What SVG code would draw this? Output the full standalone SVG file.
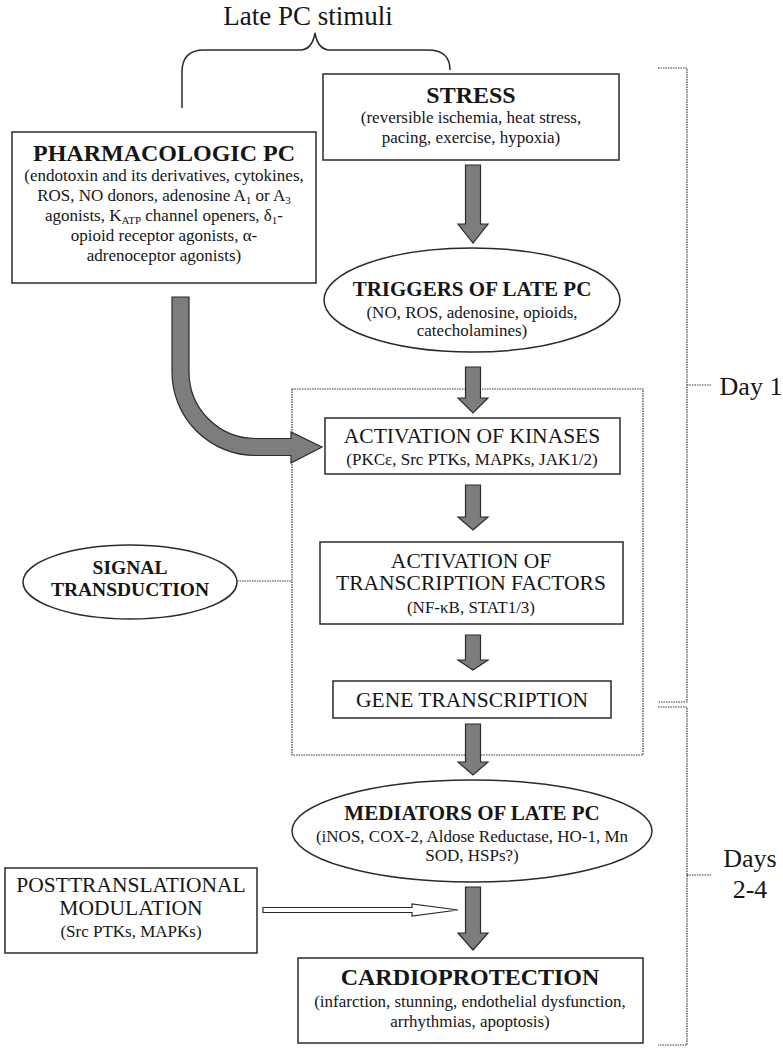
<svg xmlns="http://www.w3.org/2000/svg" width="783" height="1050" viewBox="0 0 783 1050">
<style>
  text { font-family: "Liberation Serif", "Times New Roman", serif; fill: #161616; text-anchor: middle; }
  .box { fill: #ffffff; stroke: #2a2a2a; stroke-width: 1.5; }
  .dot { fill: none; stroke: #3a3a3a; stroke-width: 1.2; stroke-dasharray: 1.5 1; }
  .big { stroke: #2a2a2a; stroke-width: 1.2; fill: #7d7d7d; }
  .hollow { fill: #ffffff; stroke: #2a2a2a; stroke-width: 1.2; }
  .t24 { font-size: 24px; font-weight: bold; }
  .t21 { font-size: 21px; font-weight: bold; }
  .t19 { font-size: 19.5px; font-weight: bold; }
  .r20 { font-size: 21.5px; }
  .s15 { font-size: 17px; }
  .lbl { font-size: 26px; }
  .sub { font-size: 11px; }
</style>
<rect width="783" height="1050" fill="#ffffff"/>

<g id="late-pc-stimuli">
  <text x="308" y="25" style="font-size:27px">Late PC stimuli</text>
  <path d="M182,108 L182,72 Q182,50 204,50 L300,50 Q312,50 315,33 Q318,50 330,50 L428,50 Q450,50 450,70" fill="none" stroke="#2a2a2a" stroke-width="1.5"/>
</g>

<g id="signal-box">
  <rect class="dot" x="292" y="389" width="351" height="366"/>
</g>

<g id="stress">
  <rect class="box" x="323" y="74" width="296" height="86"/>
  <text class="t24" x="471" y="103">STRESS</text>
  <text class="s15" x="471" y="123">(reversible ischemia, heat stress,</text>
  <text class="s15" x="471" y="143">pacing, exercise, hypoxia)</text>
</g>

<g id="pharmacologic">
  <rect class="box" x="12" y="132" width="304" height="151"/>
  <text class="t24" x="164" y="161">PHARMACOLOGIC PC</text>
  <text class="s15" x="164" y="181">(endotoxin and its derivatives, cytokines,</text>
  <text class="s15" x="164" y="201">ROS, NO donors, adenosine A<tspan class="sub" dy="3">1</tspan><tspan dy="-3"> or A</tspan><tspan class="sub" dy="3">3</tspan></text>
  <text class="s15" x="164" y="221">agonists,  K<tspan class="sub" dy="3">ATP</tspan><tspan dy="-3"> channel openers, δ</tspan><tspan class="sub" dy="3">1</tspan><tspan dy="-3">-</tspan></text>
  <text class="s15" x="164" y="241">opioid receptor agonists,  α-</text>
  <text class="s15" x="164" y="261">adrenoceptor agonists)</text>
</g>

<g id="triggers">
  <ellipse class="box" cx="472" cy="300" rx="148" ry="52"/>
  <text class="t21" x="472" y="296">TRIGGERS OF LATE PC</text>
  <text class="s15" x="472" y="318">(NO, ROS, adenosine, opioids,</text>
  <text class="s15" x="472" y="336">catecholamines)</text>
</g>

<g id="kinases">
  <rect class="box" x="325" y="418" width="295" height="56"/>
  <text class="r20" x="472" y="443">ACTIVATION OF KINASES</text>
  <text class="s15" x="472" y="465">(PKCε, Src PTKs, MAPKs, JAK1/2)</text>
</g>

<g id="transcription-factors">
  <rect class="box" x="320" y="542" width="303" height="82"/>
  <text class="r20" x="471" y="568">ACTIVATION OF</text>
  <text class="r20" x="471" y="590">TRANSCRIPTION FACTORS</text>
  <text class="s15" x="471" y="613">(NF-κB, STAT1/3)</text>
</g>

<g id="gene-transcription">
  <rect class="box" x="333" y="681" width="278" height="37"/>
  <text class="r20" x="472" y="707">GENE TRANSCRIPTION</text>
</g>

<g id="signal-transduction">
  <ellipse class="box" cx="130" cy="582" rx="107" ry="37"/>
  <text class="t19" x="130" y="574">SIGNAL</text>
  <text class="t19" x="130" y="596">TRANSDUCTION</text>
</g>

<g id="mediators">
  <ellipse class="box" cx="472" cy="831" rx="180" ry="51"/>
  <text class="t21" x="472" y="820">MEDIATORS OF LATE PC</text>
  <text class="s15" x="472" y="842">(iNOS, COX-2, Aldose Reductase, HO-1, Mn</text>
  <text class="s15" x="472" y="861">SOD, HSPs?)</text>
</g>

<g id="posttranslational">
  <rect class="box" x="5" y="868" width="252" height="85"/>
  <text class="r20" x="131" y="892">POSTTRANSLATIONAL</text>
  <text class="r20" x="131" y="915">MODULATION</text>
  <text class="s15" x="131" y="937">(Src PTKs, MAPKs)</text>
</g>

<g id="cardioprotection">
  <rect class="box" x="298" y="958" width="345" height="85"/>
  <text class="t24" x="470" y="985">CARDIOPROTECTION</text>
  <text class="s15" x="470" y="1007">(infarction, stunning, endothelial dysfunction,</text>
  <text class="s15" x="470" y="1027">arrhythmias, apoptosis)</text>
</g>

<g id="day1">
  <path class="dot" d="M658,68 L687,68 L687,702 L658,702 M687,385 L712,385"/>
  <text class="lbl" x="751" y="395">Day 1</text>
</g>

<g id="days2-4">
  <path class="dot" d="M658,707 L687,707 L687,1045 L658,1045 M687,875 L712,875"/>
  <text class="lbl" x="750" y="867">Days</text>
  <text class="lbl" x="750" y="898">2-4</text>
</g>

<g id="connectors">
  <polygon class="big" points="465.5,165 480.5,165 480.5,224 488,224 473,243 458,224 465.5,224"/>
  <polygon class="big" points="465.5,367 480.5,367 480.5,398 488,398 473,413 458,398 465.5,398"/>
  <polygon class="big" points="465.5,485 480.5,485 480.5,517 488,517 473,530 458,517 465.5,517"/>
  <polygon class="big" points="465.5,635 480.5,635 480.5,660 488,660 473,670 458,660 465.5,660"/>
  <polygon class="big" points="465.5,724 480.5,724 480.5,762 488,762 473,775 458,762 465.5,762"/>
  <polygon class="big" points="465.5,887 480.5,887 480.5,933 488,933 473,950 458,933 465.5,933"/>
  <path class="big" d="M172,297 L172,372 A83.5,83.5 0 0 0 255.5,455.5 L291,455.5 L291,463 L322,447 L291,432 L291,438.5 L255.5,438.5 A66.5,66.5 0 0 1 189,372 L189,297 Z"/>
  <path class="dot" d="M237,581 L292,581"/>
  <polygon class="hollow" points="263,907.5 412,907.5 412,904 458,910 412,916 412,912.5 263,912.5"/>
</g>
</svg>
